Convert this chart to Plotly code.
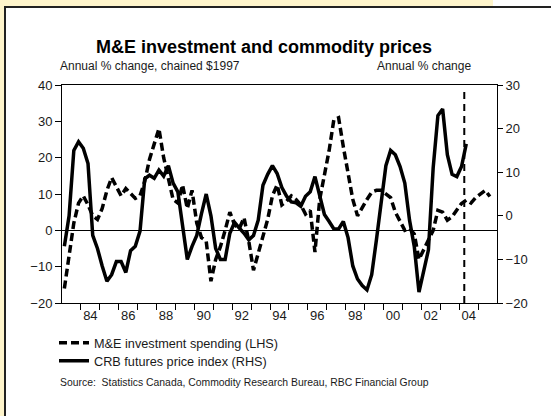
import plotly.graph_objects as go

# ---------------- data (quarterly, 1983Q1 onward) ----------------
start_year = 1983
me_investment = [  # M&E investment spending, annual % change (LHS)
    -16, -7.5, 2, 7.5, 9.5, 7, 4, 3, 6, 11, 14.5, 12, 9.5, 11.5, 10, 8.8,
    9.5, 13.5, 19.5, 24, 28, 20, 14.5, 8.5, 7.5, 12.5, 6, 11, 2, -2, -3, -14,
    -8, -4.5, 0, 5, 1.5, 0.5, 3.5, -3, -11, -6.5, -2, 3, 9.5, 12.5, 7, 8,
    9.5, 8.5, 7, 4.5, 5.5, -6, 8.5, 15.5, 22, 30.5, 31, 23, 15.5, 8.5, 4, 6.5,
    8.5, 10.5, 11, 11, 10, 9, 5, 2.5, 0, 0.5, -1, -8, -5.5, -3, 0, 5.5,
    5, 2.8, 3.7, 5.6, 7.4, 8.3, 7.5, 9, 10, 11, 9.3,
]
crb_index = [  # CRB futures price index, annual % change (RHS)
    -7, 0, 15, 17, 15.5, 12, -4.5, -7.5, -11.5, -15, -13.5, -10.5, -10.5, -13, -8, -7,
    -3.5, 8.5, 9.3, 8.6, 10.5, 9.1, 11.5, 7.5, 5.5, -3, -10, -7, -4.5, 0.5, 5, 0,
    -7.5, -10, -10, -4, -1.5, -2.8, -4, -5.5, -4.5, -1, 7, 9.5, 11.5, 9.7, 6.5, 4.5,
    3.2, 3, 2.2, 4.5, 5.5, 9, 4.5, 0.3, -1.3, -3, -3, -1.3, -5, -11.5, -14.5, -16,
    -17, -13.5, -5.5, 3, 11.5, 15, 14, 11.3, 7.5, -1, -7, -17.5, -13, -7.8, 11, 23,
    24.5, 14, 9.5, 9, 11.3, 16.5,
]
year_labels = ["84", "86", "88", "90", "92", "94", "96", "98", "00", "02", "04"]
label_years = [1984, 1986, 1988, 1990, 1992, 1994, 1996, 1998, 2000, 2002, 2004]
left_ticks = [-20, -10, 0, 10, 20, 30, 40]
right_ticks = [-20, -10, 0, 10, 20, 30]
forecast_start = 2004.27

x_me = [start_year + (i + 0.5) / 4 for i in range(len(me_investment))]
x_crb = [start_year + (i + 0.5) / 4 for i in range(len(crb_index))]

# ---------------- layout geometry ----------------
W, H = 551, 416
L, R, T, B = 62, 54, 85, 113
pw, ph = W - L - R, H - T - B


def px(x):
    return (x - L) / pw


def py(y):
    return (H - B - y) / ph


FONT = "Liberation Sans, Arial, sans-serif"
TXT = "#1a1a1a"
yellow = "#FFF5CC"

fig = go.Figure()
fig.add_trace(go.Scatter(
    x=x_me, y=me_investment, name="M&E investment spending (LHS)",
    mode="lines", line=dict(color="black", width=3.5, dash="8px,4px"),
    yaxis="y", legend="legend",
))
fig.add_trace(go.Scatter(
    x=x_crb, y=crb_index, name="CRB futures price index (RHS)",
    mode="lines", line=dict(color="black", width=3.5),
    yaxis="y2", legend="legend2",
))

# vertical forecast line
fig.add_shape(type="line", xref="x", yref="paper", x0=forecast_start, x1=forecast_start,
              y0=0, y1=py(90), line=dict(color="black", width=2, dash="7px,5px"))

# page decoration: yellow page, white box with dark top/left border
fig.add_shape(type="rect", xref="paper", yref="paper", x0=px(5), x1=px(551), y0=py(7), y1=py(416),
              fillcolor="white", line=dict(width=0), layer="below")
fig.add_shape(type="rect", xref="paper", yref="paper", x0=px(493), x1=px(551), y0=py(0), y1=py(7),
              fillcolor="white", line=dict(width=0), layer="below")
fig.add_shape(type="line", xref="paper", yref="paper", x0=px(4), x1=px(551), y0=py(7), y1=py(7),
              line=dict(color="#222", width=2))
fig.add_shape(type="line", xref="paper", yref="paper", x0=px(5), x1=px(5), y0=py(6), y1=py(416),
              line=dict(color="#222", width=2))

legend_common = dict(xanchor="left", yanchor="top", bgcolor="rgba(0,0,0,0)",
                     font=dict(size=12.7, family=FONT, color=TXT), itemwidth=30,
                     tracegroupgap=0, borderwidth=0)

fig.update_layout(
    width=W, height=H,
    margin=dict(l=L, r=R, t=T, b=B, pad=0, autoexpand=False),
    paper_bgcolor=yellow, plot_bgcolor="white",
    font=dict(family=FONT, size=13, color=TXT),
    showlegend=True,
    legend=dict(x=px(54), y=py(328), **legend_common),
    legend2=dict(x=px(54), y=py(346), **legend_common),
    xaxis=dict(
        range=[1983, 2006], showgrid=False, zeroline=False,
        showline=True, linecolor="black", linewidth=1, mirror=True,
        tickvals=[y + 0.5 for y in label_years], ticktext=year_labels, ticks="",
        tickfont=dict(size=13, family=FONT, color=TXT),
        minor=dict(tickvals=list(range(1984, 2006)), ticks="outside", ticklen=6,
                   tickcolor="black", tickwidth=1, showgrid=False),
    ),
    yaxis=dict(
        range=[-20, 40], tickvals=left_ticks, showgrid=False,
        zeroline=True, zerolinecolor="black", zerolinewidth=1,
        showline=True, linecolor="black", linewidth=1,
        ticks="outside", ticklen=6, tickcolor="black",
        tickfont=dict(size=13, family=FONT, color=TXT),
    ),
    yaxis2=dict(
        range=[-20, 30], tickvals=right_ticks, overlaying="y", side="right",
        showgrid=False, zeroline=False, showline=True, linecolor="black", linewidth=1,
        ticks="outside", ticklen=5, tickcolor="black",
        tickfont=dict(size=13, family=FONT, color=TXT),
    ),
    title=dict(text="<b>M&E investment and commodity prices</b>", xref="container", yref="container",
               x=264 / W, y=1 - 47 / H, xanchor="center", yanchor="middle",
               font=dict(size=18, family=FONT, color="black")),
)

fig.add_annotation(text="Annual % change, chained $1997", xref="paper", yref="paper",
                   x=px(58), y=py(66), xanchor="left", yanchor="middle", showarrow=False,
                   font=dict(size=12, family=FONT, color=TXT))
fig.add_annotation(text="Annual % change", xref="paper", yref="paper",
                   x=px(473), y=py(66), xanchor="right", yanchor="middle", showarrow=False,
                   font=dict(size=12, family=FONT, color=TXT))
fig.add_annotation(text="Source:  Statistics Canada, Commodity Research Bureau, RBC Financial Group",
                   xref="paper", yref="paper", x=px(58), y=py(382), xanchor="left", yanchor="middle",
                   showarrow=False, font=dict(size=10.4, family=FONT, color=TXT))

fig.write_html("out.html", config={"displayModeBar": False},
               post_script="document.body.style.margin='0';")
